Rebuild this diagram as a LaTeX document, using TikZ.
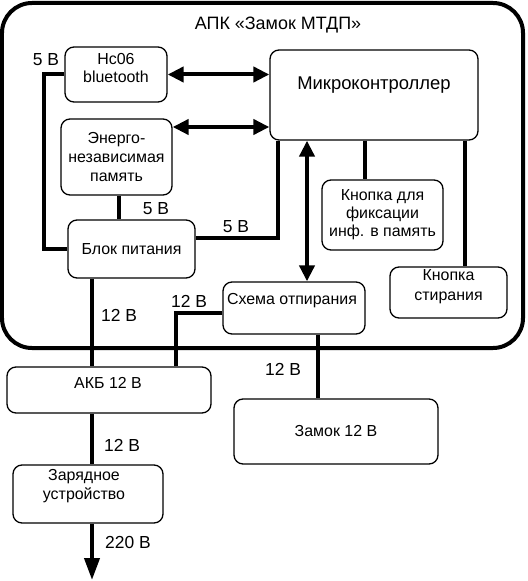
\documentclass[tikz,border=0pt]{standalone}
\usepackage{fontspec}
\setmainfont{Liberation Sans}
\usetikzlibrary{arrows.meta,calc}
\begin{document}
\begin{tikzpicture}[x=1bp,y=-1bp,
  box/.style={draw, rounded corners=9bp, line width=1.3bp, align=center, inner sep=0pt,
    font=\fontsize{16}{19}\selectfont},
  wire/.style={line width=4bp},
  biarrow/.style={line width=4bp, {Triangle[length=16bp,width=15bp]}-{Triangle[length=16bp,width=15bp]}},
  endarrow/.style={line width=4bp, -{Triangle[length=22bp,width=15bp]}},
  lbl/.style={font=\fontsize{17.5}{20}\selectfont, inner sep=0pt},
  txt/.style={font=\fontsize{16}{19}\selectfont, align=center, inner sep=0pt}]
\useasboundingbox (0,0) rectangle (528,581);
% outer container
\node[draw, line width=4bp, rounded corners=30bp, minimum width=521bp, minimum height=345bp, inner sep=0pt] (outer) at (262.5,175.5) {};
\node[font=\fontsize{18}{21}\selectfont, inner sep=0pt] (title) at (278,25) {АПК «Замок МТДП»};
% boxes
\node[box, minimum width=102bp, minimum height=55bp] (hc) at (116,74.5) {};
\node[txt] (hct) at (116,68) {Hc06\\bluetooth};
\node[box, minimum width=208bp, minimum height=90bp] (mc) at (374,95) {};
\node[font=\fontsize{18.5}{22}\selectfont, inner sep=0pt] (mct) at (374,85) {Микроконтроллер};
\node[box, minimum width=111bp, minimum height=76bp] (mem) at (116.5,157) {Энерго-\\независимая\\память};
\node[box, minimum width=127bp, minimum height=58bp] (pw) at (131.5,249) {Блок питания};
\node[box, minimum width=121bp, minimum height=70bp, font=\fontsize{16}{18}\selectfont] (kf) at (382.5,215) {Кнопка для\\фиксации\\инф. в память};
\node[box, minimum width=117bp, minimum height=51bp] (ks) at (448.5,292.5) {};
\node[txt, font=\fontsize{16}{20}\selectfont] (kst) at (448.5,287) {Кнопка\\стирания};
\node[box, minimum width=142bp, minimum height=52bp] (sch) at (294,308) {};
\node[txt] (scht) at (292,301) {Схема отпирания};
\node[box, minimum width=204bp, minimum height=46bp] (akb) at (109,390) {};
\node[txt] (akbt) at (108,383) {АКБ 12 В};
\node[box, minimum width=204bp, minimum height=65bp] (zam) at (336,431.5) {Замок 12 В};
\node[box, minimum width=150bp, minimum height=58bp] (zar) at (88,494) {};
\node[txt] (zart) at (84,486.5) {Зарядное\\устройство};
% helper coordinates
\coordinate (x44) at (44,0);
\coordinate (y238) at (0,238);
\coordinate (x278) at (278,0);
\coordinate (x307) at (307,0);
\coordinate (x365) at (365,0);
\coordinate (x465) at (465,0);
\coordinate (x92) at (92,0);
\coordinate (x176) at (176,0);
\coordinate (x318) at (318,0);
\coordinate (y313) at (0,313);
\coordinate (y127) at (0,127);
\coordinate (mainsend) at (92,580);
% wires
\draw[wire] (hc.west) -| (x44 |- pw.west) -- (pw.west);
\draw[wire] (mem.south -| 119,0) -- (pw.north -| 119,0);
\draw[wire] (pw.east |- y238) -| (mc.south -| x278);
\draw[wire] (mc.south -| x365) -- (kf.north -| x365);
\draw[wire] (mc.south -| x465) -- (ks.north -| x465);
\draw[wire] (pw.south -| x92) -- (akb.north -| x92);
\draw[wire] (sch.west |- y313) -| (akb.north -| x176);
\draw[wire] (sch.south -| x318) -- (zam.north -| x318);
\draw[wire] (akb.south -| x92) -- (zar.north -| x92);
\draw[endarrow] (zar.south -| x92) -- (mainsend);
% bidirectional arrows
\draw[biarrow] (hc.east) -- (mc.west |- hc.east);
\draw[biarrow] (mem.east |- y127) -- (mc.west |- y127);
\draw[biarrow] (mc.south -| x307) -- (sch.north -| x307);
% labels
\node[lbl] (l1) at (46,60) {5 В};
\node[lbl] (l2) at (156,209) {5 В};
\node[lbl] (l3) at (236,227) {5 В};
\node[lbl] (l4) at (119,315) {12 В};
\node[lbl] (l5) at (189,301) {12 В};
\node[lbl] (l6) at (283,369) {12 В};
\node[lbl] (l7) at (122,445) {12 В};
\node[lbl] (l8) at (128,542) {220 В};
\end{tikzpicture}
\end{document}
